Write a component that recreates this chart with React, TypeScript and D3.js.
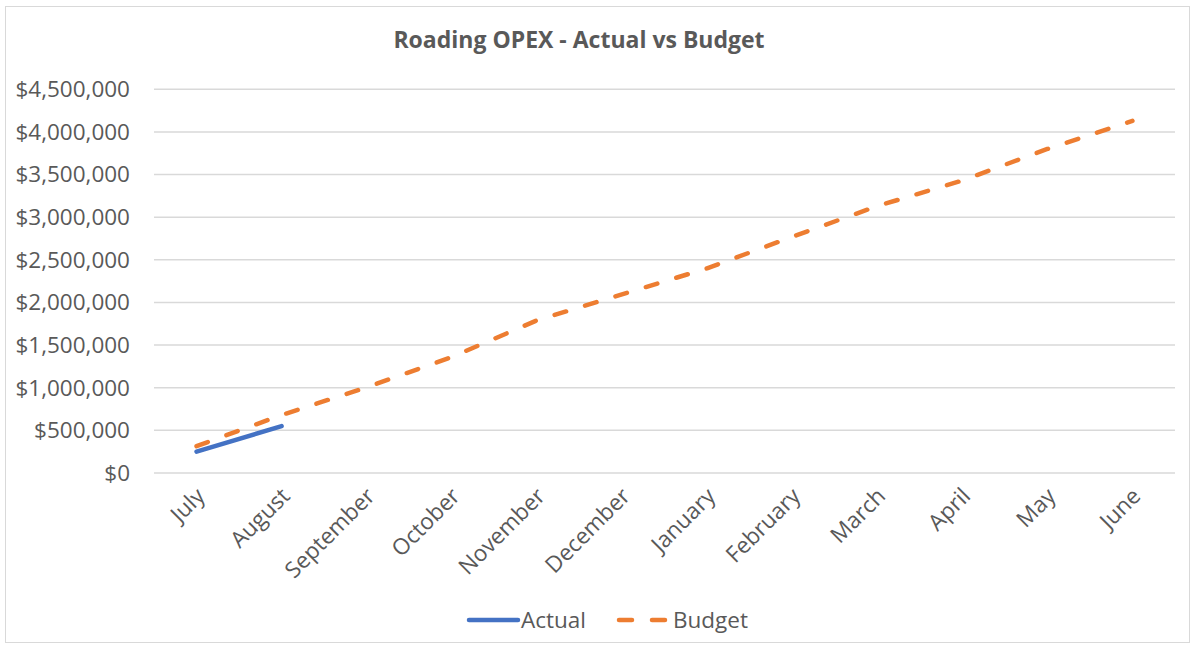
import React from 'react';
import * as d3 from 'd3';

const months = ['July', 'August', 'September', 'October', 'November', 'December',
  'January', 'February', 'March', 'April', 'May', 'June'];
const actual: (number | null)[] = [250000, 550000, null, null, null, null, null, null, null, null, null, null];
const budget = [315000, 680000, 1005000, 1360000, 1790000, 2095000,
  2400000, 2770000, 3130000, 3430000, 3800000, 4130000];
const yTicks = [0, 500000, 1000000, 1500000, 2000000, 2500000, 3000000, 3500000, 4000000, 4500000];

const W = 1195;
const H = 648;
const FONT = '"Open Sans", sans-serif';
const GREY = '#595959';
const FS = 22.5;

const App: React.FC = () => {
  const x = d3.scalePoint<string>().domain(months).range([154, 1175]).padding(0.5);
  const y = d3.scaleLinear().domain([0, 4500000]).range([473, 89.3]);
  const fmt = (v: number) => '$' + d3.format(',')(v);

  const line = d3.line<number | null>()
    .defined(d => d !== null)
    .x((_, i) => x(months[i]) as number)
    .y(d => y(d as number));

  return (
    <svg width={W} height={H} style={{ position: 'absolute', left: 0, top: 0, fontFamily: FONT }}>
      <rect x={0} y={0} width={W} height={H} fill="#fff" />
      <rect x={5.5} y={6.5} width={1184} height={636} fill="none" stroke="#d9d9d9" strokeWidth={1} />

      <text x={579} y={48} textAnchor="middle" fontSize={23} fontWeight="bold" fill={GREY}>
        Roading OPEX - Actual vs Budget
      </text>

      {/* gridlines + y labels */}
      {yTicks.map(t => (
        <g key={t}>
          <line x1={154} x2={1175} y1={y(t)} y2={y(t)} stroke="#d9d9d9" strokeWidth={1.5} />
          <text x={130} y={y(t)} dy="0.35em" textAnchor="end" fontSize={FS} fill={GREY}>{fmt(t)}</text>
        </g>
      ))}

      {/* x labels */}
      {months.map(m => (
        <text key={m} transform={`translate(${(x(m) as number) + 4},${492}) rotate(-45)`}
          textAnchor="end" dy="0.35em" fontSize={FS} fill={GREY}>{m}</text>
      ))}

      <path d={line(budget as (number | null)[]) || ''} fill="none" stroke="#ed7d31" strokeWidth={4.5}
        strokeDasharray="12 19.8" strokeLinecap="round" />
      <path d={line(actual) || ''} fill="none" stroke="#4472c4" strokeWidth={4.5} strokeLinecap="round" />

      {/* legend */}
      <line x1={469} x2={518} y1={620} y2={620} stroke="#4472c4" strokeWidth={4.5} strokeLinecap="round" />
      <text x={521} y={620} dy="0.35em" fontSize={FS} fill={GREY}>Actual</text>
      <line x1={619} x2={667} y1={620} y2={620} stroke="#ed7d31" strokeWidth={4.5} strokeLinecap="round"
        strokeDasharray="13 20" />
      <text x={673} y={620} dy="0.35em" fontSize={FS} fill={GREY}>Budget</text>
    </svg>
  );
};

export default App;
